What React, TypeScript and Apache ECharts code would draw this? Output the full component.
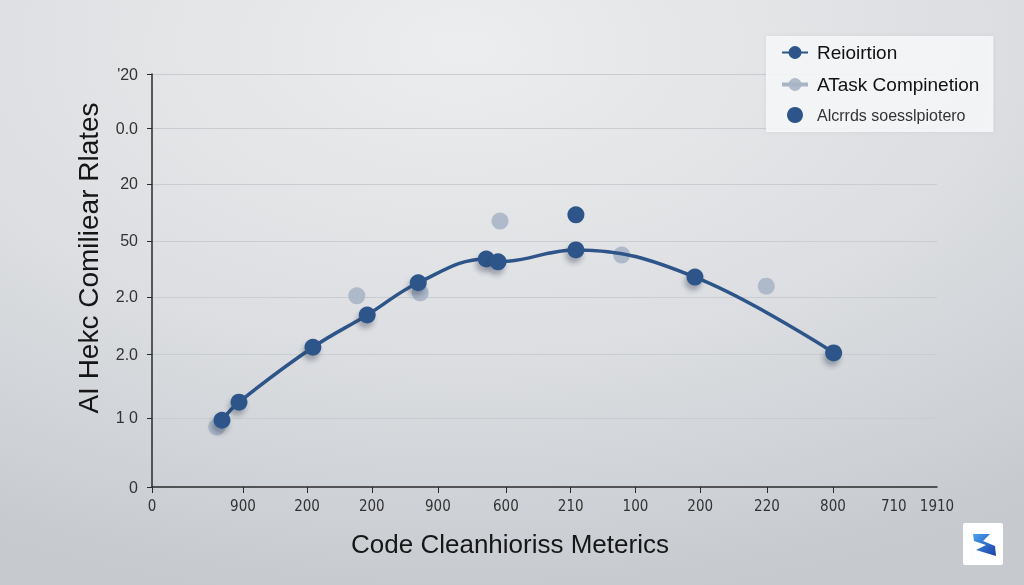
import React, { useEffect, useRef } from "react";
import * as echarts from "echarts";

const seriesNames = ["Reioirtion", "ATask Compinetion", "Alcrrds soesslpiotero"];
const xTitle = "Code Cleanhioriss Meterics";
const yTitle = "AI Hekc Comiliear Rlates";

const xTickValues = [0, 1.39, 2.37, 3.36, 4.37, 5.41, 6.4, 7.39, 8.38, 9.4, 10.41];
const xLabelValues = [0, 1.39, 2.37, 3.36, 4.37, 5.41, 6.4, 7.39, 8.38, 9.4, 10.41, 11.34, 12];
const xTickLabels = ["0", "900", "200", "200", "900", "600", "210", "100", "200", "220", "800", "710", "1910"];

const yLabelValues = [0, 1.22, 2.34, 3.36, 4.35, 5.36, 6.34, 7.3];
const yTickLabels = ["0", "1 0", "2.0", "2.0", "50", "20", "0.0", "'20"];

const retentionX = [1.07, 1.33, 2.46, 3.29, 4.07, 5.11, 5.29, 6.48, 8.3, 10.42];
const retentionY = [1.18, 1.5, 2.47, 3.04, 3.61, 4.03, 3.98, 4.19, 3.71, 2.37];

const completionX = [0.99, 3.13, 4.1, 5.32, 7.18, 9.39];
const completionY = [1.06, 3.38, 3.43, 4.7, 4.1, 3.55];

const extraX = [6.48];
const extraY = [4.81];

const zip = (xs: number[], ys: number[]) => xs.map((x, i) => [x, ys[i]]);

const labelFor = (values: number[], labels: string[]) => (v: number) => {
  const i = values.findIndex((t) => Math.abs(t - v) < 0.01);
  return i >= 0 ? labels[i] : "";
};

export default function App() {
  const ref = useRef<HTMLDivElement>(null);

  useEffect(() => {
    if (!ref.current) return;
    const chart = echarts.init(ref.current, undefined, { renderer: "svg" });
    const dark = "#2d5589";
    const grey = "#a9b5c6";
    const axisColor = "#2a2a2a";
    const font = "Liberation Sans, Arial, sans-serif";

    chart.setOption({
      animation: false,
      backgroundColor: new echarts.graphic.RadialGradient(0.45, 0.08, 0.95, [
        { offset: 0, color: "#ecedee" },
        { offset: 0.55, color: "#dcdee1" },
        { offset: 1, color: "#c6cacf" },
      ]),
      grid: { left: 152, right: 87, top: 74, bottom: 98, containLabel: false },
      legend: {
        orient: "vertical",
        left: 766,
        top: 36,
        padding: [7, 14, 9, 14],
        itemGap: 13,
        itemWidth: 26,
        itemHeight: 16,
        backgroundColor: "rgba(247,248,249,0.85)",
        shadowColor: "rgba(0,0,0,0.08)",
        shadowBlur: 4,
        textStyle: { fontFamily: font, fontSize: 19, color: "#111", padding: [0, 0, 0, 4] },
        data: [
          { name: seriesNames[0] },
          { name: seriesNames[1], lineStyle: { width: 4, color: grey, opacity: 1 } },
          { name: seriesNames[2], itemStyle: { color: dark, opacity: 1 }, textStyle: { fontSize: 16, color: "#333" } },
        ],
      },
      xAxis: {
        type: "value",
        min: 0,
        max: 12,
        axisLine: { show: true, lineStyle: { color: axisColor, width: 1.5 } },
        axisTick: { show: true, length: 6, customValues: xTickValues, lineStyle: { color: axisColor } },
        axisLabel: {
          customValues: xLabelValues,
          formatter: labelFor(xLabelValues, xTickLabels),
          fontFamily: "Liberation Sans Narrow, DejaVu Sans Condensed, sans-serif",
          fontSize: 15,
          color: "#333",
          margin: 11,
        },
        splitLine: { show: false },
      },
      yAxis: {
        type: "value",
        min: 0,
        max: 7.3,
        axisLine: { show: true, lineStyle: { color: axisColor, width: 1.5 } },
        axisTick: { show: true, length: 5, customValues: yLabelValues, lineStyle: { color: axisColor } },
        axisLabel: {
          customValues: yLabelValues,
          formatter: labelFor(yLabelValues, yTickLabels),
          fontFamily: font,
          fontSize: 16,
          color: "#333",
          margin: 14,
        },
        splitLine: { show: true, lineStyle: { color: "#c9ccd0", width: 1 } },
      },
      series: [
        {
          name: seriesNames[0],
          type: "line",
          smooth: 0.4,
          data: zip(retentionX, retentionY),
          symbol: "circle",
          symbolSize: 17,
          lineStyle: { color: dark, width: 3.5 },
          itemStyle: {
            color: dark,
            shadowColor: "rgba(40,50,70,0.35)",
            shadowBlur: 5,
            shadowOffsetY: 5,
            shadowOffsetX: -2,
          },
          z: 3,
        },
        {
          name: seriesNames[1],
          type: "line",
          data: zip(completionX, completionY),
          symbol: "circle",
          symbolSize: 17,
          lineStyle: { width: 0, color: grey, opacity: 0 },
          itemStyle: { color: grey, opacity: 0.9 },
          z: 2,
        },
        {
          name: seriesNames[2],
          type: "scatter",
          data: zip(extraX, extraY),
          symbol: "circle",
          symbolSize: 17,
          itemStyle: { color: dark, opacity: 1 },
          z: 3,
        },
      ],
      graphic: [
        {
          type: "text",
          x: 510,
          y: 544,
          style: {
            text: xTitle,
            fontFamily: font,
            fontSize: 26,
            fill: "#161616",
            align: "center",
            verticalAlign: "middle",
          },
        },
        {
          type: "text",
          x: 88,
          y: 258,
          rotation: Math.PI / 2,
          style: {
            text: yTitle,
            fontFamily: font,
            fontSize: 28,
            fill: "#161616",
            align: "center",
            verticalAlign: "middle",
          },
        },
        {
          type: "rect",
          shape: { x: 963, y: 523, width: 40, height: 42, r: 2 },
          style: { fill: "#ffffff" },
        },
        {
          type: "polygon",
          shape: {
            points: [
              [973, 534],
              [990, 534],
              [983, 541],
              [995, 546],
              [996, 556],
              [976, 550],
              [986, 545],
              [974, 541],
            ],
          },
          style: {
            fill: new echarts.graphic.LinearGradient(0, 0, 1, 1, [
              { offset: 0, color: "#4aa0f0" },
              { offset: 1, color: "#1a3fa8" },
            ]),
          },
        },
      ],
    });

    return () => chart.dispose();
  }, []);

  return (
    <div
      ref={ref}
      style={{ position: "fixed", left: 0, top: 0, width: 1024, height: 585 }}
    />
  );
}
